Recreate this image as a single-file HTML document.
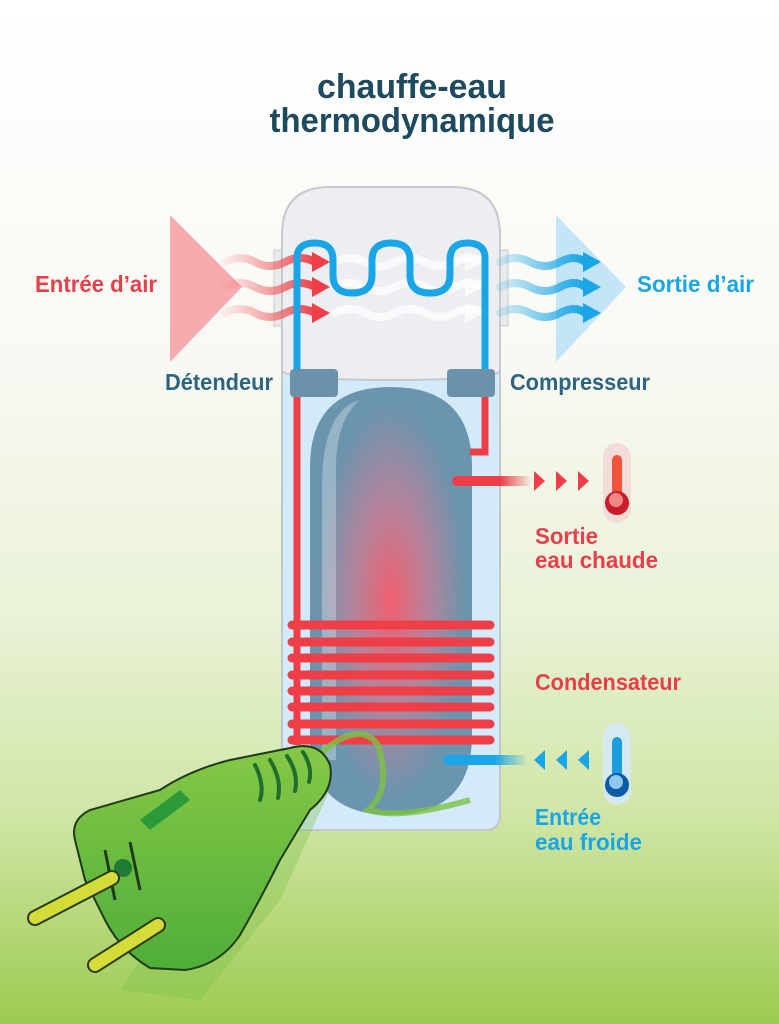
<!DOCTYPE html>
<html><head><meta charset="utf-8"><style>
html,body{margin:0;padding:0;width:779px;height:1024px;overflow:hidden}
text{font-family:"Liberation Sans Narrow","Liberation Sans",sans-serif;font-weight:bold}
</style></head><body>
<svg width="779" height="1024" viewBox="0 0 779 1024" xmlns="http://www.w3.org/2000/svg">
<defs>
<linearGradient id="bg" x1="0" y1="0" x2="0" y2="1">
<stop offset="0" stop-color="#ffffff"/><stop offset="0.35" stop-color="#f8f9f3"/><stop offset="0.6" stop-color="#eaf2d8"/><stop offset="0.8" stop-color="#cfe5a4"/><stop offset="1" stop-color="#9ccb50"/>
</linearGradient>
<radialGradient id="cyl" cx="0.5" cy="0.5" r="0.46">
<stop offset="0" stop-color="#ee5f6e"/><stop offset="0.5" stop-color="#b5849c"/><stop offset="1" stop-color="#6b94ae"/>
</radialGradient>
<linearGradient id="plug" x1="0" y1="0" x2="0" y2="1"><stop offset="0" stop-color="#86c846"/><stop offset="1" stop-color="#4fae3a"/></linearGradient>
<linearGradient id="rf" x1="0" x2="1"><stop offset="0" stop-color="#ee3f48"/><stop offset="0.6" stop-color="#ee3f48"/><stop offset="1" stop-color="#ee3f48" stop-opacity="0"/></linearGradient>
<linearGradient id="bf" x1="0" x2="1"><stop offset="0" stop-color="#1aa6e6"/><stop offset="0.6" stop-color="#1aa6e6"/><stop offset="1" stop-color="#1aa6e6" stop-opacity="0"/></linearGradient>
<linearGradient id="redw" x1="0" x2="1"><stop offset="0" stop-color="#f26a70" stop-opacity="0.1"/><stop offset="1" stop-color="#ee3f48"/></linearGradient>
<linearGradient id="bluew" x1="0" x2="1"><stop offset="0" stop-color="#1aa6e6" stop-opacity="0.15"/><stop offset="1" stop-color="#1aa6e6"/></linearGradient>
</defs>
<rect width="779" height="1024" fill="url(#bg)"/>
<text x="412" y="98" font-size="34" fill="#1d4a5e" text-anchor="middle" textLength="190" lengthAdjust="spacingAndGlyphs">chauffe-eau</text>
<text x="412" y="132" font-size="34" fill="#1d4a5e" text-anchor="middle" textLength="285" lengthAdjust="spacingAndGlyphs">thermodynamique</text>

<polygon points="170,215 170,362 242,287" fill="#f5a3a6" opacity="0.9"/>
<polygon points="556,215 556,362 626,287" fill="#c4e5f7"/>

<rect x="274" y="250" width="10" height="76" fill="#e8eaec" stroke="#c9cccf"/>
<rect x="498" y="250" width="10" height="76" fill="#e8eaec" stroke="#c9cccf"/>
<path d="M282,370 H500 V815 Q500,830 485,830 H297 Q282,830 282,815 Z" fill="#d3ebf9" stroke="#c3c7cc" stroke-width="2"/>
<path d="M282,370 V235 Q282,187 330,187 H452 Q500,187 500,235 V370 Q500,380 390,380 Q282,380 282,370 Z" fill="#eceef1" stroke="#c6c9cd" stroke-width="2"/>
<path d="M310,467 Q310,387 391,387 Q472,387 472,467 V735 Q472,815 391,815 Q310,815 310,735 Z" fill="url(#cyl)"/>
<path d="M322,480 Q324,410 360,400 Q334,420 336,480 V760 L322,760 Z" fill="#ffffff" opacity="0.3"/>

<g fill="none" stroke-width="8" stroke-linecap="round">
<path d="M225,262 q15,-8 30,0 t30,0 t30,0" stroke="url(#redw)"/>
<path d="M225,287 q15,-8 30,0 t30,0 t30,0" stroke="url(#redw)"/>
<path d="M225,313 q15,-8 30,0 t30,0 t30,0" stroke="url(#redw)"/>
<path d="M335,262 q15,-8 30,0 t30,0 t30,0 t30,0 t30,0" stroke="#fff" opacity="0.7"/>
<path d="M335,287 q15,-8 30,0 t30,0 t30,0 t30,0 t30,0" stroke="#fff" opacity="0.7"/>
<path d="M335,313 q15,-8 30,0 t30,0 t30,0 t30,0 t30,0" stroke="#fff" opacity="0.7"/>
<path d="M500,262 q15,-8 30,0 t30,0 t25,0" stroke="url(#bluew)"/>
<path d="M500,287 q15,-8 30,0 t30,0 t25,0" stroke="url(#bluew)"/>
<path d="M500,313 q15,-8 30,0 t30,0 t25,0" stroke="url(#bluew)"/>
</g>
<g fill="#ee3f48"><polygon points="312,252 330,262 312,272"/><polygon points="312,277 330,287 312,297"/><polygon points="312,303 330,313 312,323"/></g>
<g fill="#1aa6e6"><polygon points="583,252 601,262 583,272"/><polygon points="583,277 601,287 583,297"/><polygon points="583,303 601,313 583,323"/></g>
<g fill="#fff" opacity="0.7"><polygon points="465,252 483,262 465,272"/><polygon points="465,277 483,287 465,297"/><polygon points="465,303 483,313 465,323"/></g>

<path d="M297,375 V258 Q297,243 315,243 Q333,243 333,260 V275 Q333,293 352,293 Q372,293 372,275 V260 Q372,243 391,243 Q410,243 410,260 V275 Q410,293 430,293 Q450,293 450,275 V260 Q450,243 467,243 Q485,243 485,258 V375" fill="none" stroke="#1aa6e6" stroke-width="7"/>

<path d="M297,395 V745" stroke="#ee3f48" stroke-width="7" fill="none"/>
<path d="M485,395 V452 H470" stroke="#ee3f48" stroke-width="7" fill="none"/>
<g stroke="#ee3f48" stroke-width="9" stroke-linecap="round">
<line x1="292" y1="625" x2="490" y2="625"/><line x1="292" y1="642" x2="490" y2="642"/><line x1="292" y1="658" x2="490" y2="658"/><line x1="292" y1="675" x2="490" y2="675"/><line x1="292" y1="691" x2="490" y2="691"/><line x1="292" y1="707" x2="490" y2="707"/><line x1="292" y1="724" x2="490" y2="724"/><line x1="292" y1="740" x2="490" y2="740"/>
</g>
<rect x="290" y="369" width="48" height="28" rx="4" fill="#6b92ab"/>
<rect x="447" y="369" width="48" height="28" rx="4" fill="#6b92ab"/>

<rect x="452" y="476" width="80" height="10" rx="5" fill="url(#rf)"/>
<g fill="#ee3f48"><polygon points="534,471 545,481 534,491"/><polygon points="556,471 567,481 556,491"/><polygon points="578,471 589,481 578,491"/></g>
<rect x="443" y="755" width="85" height="10" rx="5" fill="url(#bf)"/>
<g fill="#1aa6e6"><polygon points="545,750 534,760 545,770"/><polygon points="567,750 556,760 567,770"/><polygon points="589,750 578,760 589,770"/></g>

<rect x="603" y="443" width="28" height="80" rx="14" fill="#f3d6d4" opacity="0.8"/>
<rect x="612" y="455" width="10" height="45" rx="5" fill="#f0523a"/>
<circle cx="617" cy="503" r="12" fill="#c81d2a"/><circle cx="616" cy="500" r="7" fill="#f08888"/>
<rect x="603" y="723" width="28" height="82" rx="14" fill="#d4e9f6" opacity="0.9"/>
<rect x="612" y="737" width="10" height="45" rx="5" fill="#1a9ee0"/>
<circle cx="617" cy="785" r="12" fill="#0b5aa8"/><circle cx="616" cy="782" r="7" fill="#8ec8ec"/>

<text x="35" y="292" font-size="23" fill="#e8404a" textLength="122" lengthAdjust="spacingAndGlyphs">Entrée d’air</text>
<text x="637" y="292" font-size="23" fill="#1aa6e6" textLength="117" lengthAdjust="spacingAndGlyphs">Sortie d’air</text>
<text x="165" y="390" font-size="23" fill="#2d6580" textLength="108" lengthAdjust="spacingAndGlyphs">Détendeur</text>
<text x="510" y="390" font-size="23" fill="#2d6580" textLength="140" lengthAdjust="spacingAndGlyphs">Compresseur</text>
<text x="535" y="544" font-size="23" fill="#e8404a" textLength="63" lengthAdjust="spacingAndGlyphs">Sortie</text>
<text x="535" y="568" font-size="23" fill="#e8404a" textLength="123" lengthAdjust="spacingAndGlyphs">eau chaude</text>
<text x="535" y="690" font-size="23" fill="#e8404a" textLength="146" lengthAdjust="spacingAndGlyphs">Condensateur</text>
<text x="535" y="825" font-size="23" fill="#1aa6e6" textLength="66" lengthAdjust="spacingAndGlyphs">Entrée</text>
<text x="535" y="850" font-size="23" fill="#1aa6e6" textLength="107" lengthAdjust="spacingAndGlyphs">eau froide</text>

<path d="M322,752 Q360,720 378,745 Q392,790 368,810 Q400,820 470,800" fill="none" stroke="#7cc243" stroke-width="6" opacity="0.8"/>
<path d="M250,800 L330,790 L280,900 L200,1000 L120,990 Z" fill="#7cbf48" opacity="0.35"/>
<path d="M75,840 Q70,820 90,810 L160,790 Q190,770 230,760 L290,748 Q320,740 330,765 Q335,790 310,810 L280,860 Q260,900 240,935 Q220,965 185,970 L150,968 Q120,950 105,920 L85,880 Z" fill="url(#plug)" stroke="#1f3b1a" stroke-width="2"/>
<path d="M180,790 L140,820 L150,830 L190,800 Z" fill="#2d9a3a"/>
<g fill="none" stroke="#1f6e2e" stroke-width="4" stroke-linecap="round">
<path d="M255,765 q10,20 5,35"/><path d="M270,760 q12,20 8,38"/><path d="M287,756 q12,18 8,35"/><path d="M303,752 q10,16 6,30"/>
</g>
<path d="M105,850 L115,900 M130,842 L140,890" stroke="#1f3b1a" stroke-width="3" fill="none"/>
<circle cx="123" cy="868" r="9" fill="#1e7a35"/>
<g stroke-linecap="round">
<line x1="112" y1="878" x2="35" y2="918" stroke="#2b3a10" stroke-width="16"/>
<line x1="112" y1="878" x2="35" y2="918" stroke="#d4dc3a" stroke-width="12"/>
<line x1="158" y1="925" x2="95" y2="965" stroke="#2b3a10" stroke-width="16"/>
<line x1="158" y1="925" x2="95" y2="965" stroke="#d4dc3a" stroke-width="12"/>
</g>
</svg>
</body></html>
